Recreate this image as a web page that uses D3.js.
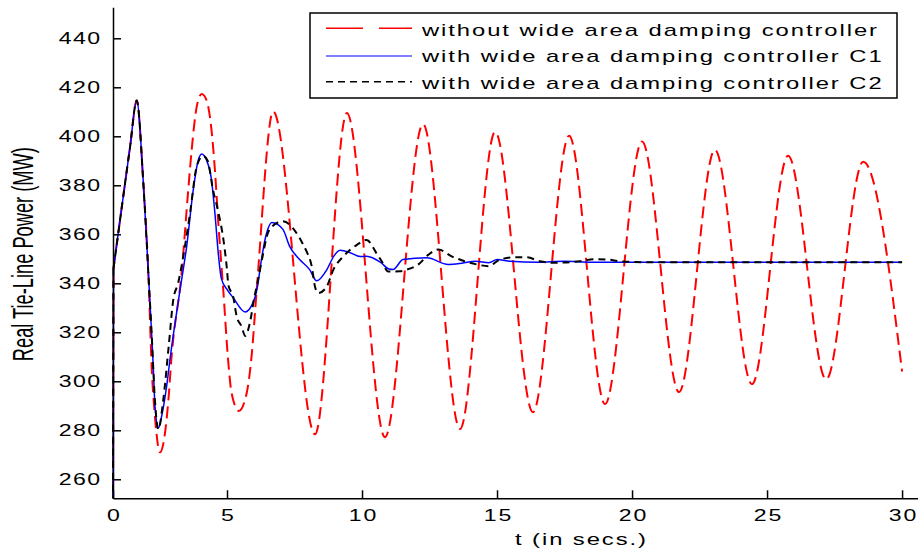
<!DOCTYPE html>
<html>
<head>
<meta charset="utf-8">
<script src="https://cdn.jsdelivr.net/npm/d3@7"></script>
<style>
  html, body { margin: 0; padding: 0; background: #fff; }
  svg { display: block; }
  text { font-family: "Liberation Sans", Arial, Helvetica, sans-serif; fill: #000; }
</style>
</head>
<body>
<svg id="chart" width="918" height="552"></svg>
<script>
// Tie-line power response, [time (s), power (MW)]
const withoutWadc = [
  [0, 250], [0.02, 346], [0.45, 375.5], [0.75, 395.8], [1.04, 414.6], [1.33, 381],
  [1.55, 344.3], [1.7, 305], [1.84, 285.6], [2.06, 271], [2.28, 278.8], [2.43, 292.4],
  [2.56, 309], [3.01, 344.3], [3.3, 378.1], [3.45, 394.4], [3.67, 412], [3.89, 417.3],
  [4.1, 414.8], [4.32, 402.6], [4.47, 386.2], [4.62, 364.5], [4.84, 336.8], [5.05, 307.5],
  [5.17, 295.2], [5.44, 287.9], [5.73, 295.2], [5.91, 310.2], [6.1, 337.3], [6.71, 410.1],
  [8.26, 278.4], [9.44, 409.5], [10.85, 277.2], [12.26, 405.0], [13.63, 280.5],
  [14.93, 401.8], [16.33, 287.4], [17.67, 400.2], [19.0, 290.7], [20.37, 397.9],
  [21.74, 295.6], [23.07, 394.5], [24.44, 298.8], [25.78, 392.1], [27.19, 300.8],
  [28.56, 389.6], [30.0, 304]
];

const withC1 = [
  [0, 250], [0.02, 346], [0.45, 375.5], [0.75, 395.8], [1.04, 414.6], [1.33, 381],
  [1.55, 344.3], [1.7, 318.5], [1.77, 305], [1.84, 290], [1.99, 281], [2.13, 285.6],
  [2.35, 297.8], [2.5, 309], [2.94, 337.3], [3.23, 355], [3.52, 378.1], [3.74, 390.3],
  [3.89, 392.8], [4.1, 390.3], [4.32, 382.2], [4.47, 368.6], [4.62, 352], [4.75, 342],
  [5.0, 337.5], [5.23, 334.1], [5.67, 328.3], [5.96, 332], [6.15, 340], [6.22, 345.6],
  [6.47, 360.6], [6.66, 364.8], [7.07, 362], [7.32, 355.1], [7.69, 349.7], [8.06, 345.6],
  [8.32, 341], [8.7, 345.6], [8.95, 351], [9.19, 353.5], [9.56, 352.5], [9.93, 350.9],
  [10.17, 351], [10.69, 348.5], [11.0, 345.8], [11.15, 345.6], [11.52, 349.7],
  [12.4, 350.4], [13.19, 347.7], [13.7, 348.2], [14.2, 349], [14.7, 348.4], [15.0, 349.7],
  [15.5, 349], [16.5, 348.6], [17.5, 349], [18.5, 348.6], [30.0, 348.6]
];

const withC2 = [
  [0, 250], [0.02, 346], [0.45, 375.5], [0.75, 395.8], [1.04, 414.6], [1.33, 381],
  [1.55, 344.3], [1.7, 318.5], [1.84, 292], [1.99, 280.4], [2.2, 292], [2.45, 315],
  [2.64, 333], [2.86, 340.2], [3.1, 352], [3.38, 368.7], [3.67, 387.6], [3.95, 392],
  [4.15, 390], [4.39, 378], [4.62, 369], [4.84, 358], [5.0, 345.5], [5.05, 339.3],
  [5.23, 334.5], [5.36, 326.4], [5.54, 322.4], [5.67, 318.5], [5.85, 324], [6.0, 333.5],
  [6.15, 341.5], [6.34, 352.2], [6.47, 359], [6.66, 363.1], [7.07, 365.3], [7.58, 360.4],
  [7.83, 355.6], [7.95, 352.9], [8.14, 346.8], [8.26, 338.6], [8.38, 336], [8.69, 338.6],
  [8.94, 345.6], [9.31, 351], [9.8, 355.6], [10.17, 357.7], [10.54, 352.2], [10.73, 349],
  [10.97, 344.8], [11.4, 344.9], [11.66, 345.6], [12.09, 347.7], [12.46, 351.7],
  [12.83, 353.8], [13.32, 351], [13.69, 349.4], [14.25, 347.7], [14.68, 347],
  [15.11, 349.7], [15.67, 350.6], [16.1, 350.6], [16.59, 349], [17.09, 348.4],
  [18.07, 349], [18.57, 349.8], [19.06, 349.7], [19.56, 349], [20.5, 348.6], [30.0, 348.6]
];

const xTickValues = [0, 5, 10, 15, 20, 25, 30];
const yTickValues = [260, 280, 300, 320, 340, 360, 380, 400, 420, 440];
const legendLabels = [
  "without wide area damping controller",
  "with wide area damping controller C1",
  "with wide area damping controller C2"
];

const svg = d3.select("#chart");

// time axis: the first 5 s occupy a narrower span than the later intervals
const x = d3.scaleLinear().domain([0, 5, 30.59]).range([113, 227, 918]);
const y = d3.scaleLinear().domain([252.24, 452.65]).range([498.3, 7.3]);

// widen text: glyphs scaled by g about their x position, the rest of the
// requested widening (k) taken up by letter spacing
function stretch(sel, k, g) {
  sel.each(function () {
    const el = d3.select(this);
    const n = this.getComputedTextLength();
    const ax = +el.attr("x") || 0;
    const prev = el.attr("transform") || "";
    el.attr("textLength", n * k / g)
      .attr("lengthAdjust", "spacing")
      .attr("transform", `${prev} translate(${ax},0) scale(${g},1) translate(${-ax},0)`);
  });
}

svg.append("clipPath").attr("id", "plotClip")
  .append("rect")
  .attr("x", x(0) - 2).attr("y", y.range()[1])
  .attr("width", x.range()[2] - x(0) + 2).attr("height", y.range()[0] - y.range()[1]);

const plot = svg.append("g").attr("clip-path", "url(#plotClip)");

const onset = d3.line().x(d => x(d[0])).y(d => y(d[1]));
const line = d3.line()
  .x(d => x(d[0]))
  .y(d => y(d[1]))
  .curve(d3.curveMonotoneX);

const series = [
  { data: withoutWadc, color: "#ff0000", width: 2, dash: "12,6", legendDash: "37,16" },
  { data: withC1, color: "#0000ff", width: 1.5, dash: null, legendDash: null },
  { data: withC2, color: "#000000", width: 2, dash: "7,5", legendDash: "7,5" }
];

series.forEach(s => {
  const g = plot.append("g")
    .attr("fill", "none")
    .attr("stroke", s.color)
    .attr("stroke-width", s.width)
    .attr("stroke-dasharray", s.dash);
  // step at t = 0 drawn straight, the response after it as a smooth curve
  g.append("path").datum(s.data.slice(0, 2)).attr("d", onset);
  g.append("path").datum(s.data.slice(1)).attr("d", line);
});

// axes (ticks point into the plot, no box)
const yAxis = svg.append("g")
  .attr("transform", `translate(${x(0)},0)`)
  .call(d3.axisLeft(y).tickValues(yTickValues).tickSizeInner(-8).tickSizeOuter(0).tickPadding(13));

const xAxis = svg.append("g")
  .attr("transform", `translate(0,${y.range()[0]})`)
  .call(d3.axisBottom(x).tickValues(xTickValues).tickSizeInner(-8).tickSizeOuter(0).tickPadding(10.5));

[yAxis, xAxis].forEach(g => {
  g.select(".domain").attr("stroke", "#000").attr("stroke-width", 1.5);
  g.selectAll(".tick line").attr("stroke", "#000").attr("stroke-width", 1.5);
  g.selectAll(".tick text")
    .attr("font-family", "'Liberation Sans', Arial, sans-serif")
    .attr("font-size", 16.5)
    .attr("fill", "#000");
});
stretch(yAxis.selectAll(".tick text"), 1.5, 1.4);
stretch(xAxis.selectAll(".tick text"), 1.5, 1.4);

// axis titles
const xTitle = svg.append("text")
  .attr("x", 580.5).attr("y", 545)
  .attr("text-anchor", "middle")
  .attr("font-size", 17)
  .text("t (in secs.)");
stretch(xTitle, 1.67, 1.4);

svg.append("text")
  .attr("transform", "translate(33.3,254.2) scale(1.58,1) rotate(-90)")
  .attr("text-anchor", "middle")
  .attr("font-size", 18.25)
  .text("Real Tie-Line Power (MW)");

// legend
const legend = svg.append("g");
legend.append("rect")
  .attr("x", 310).attr("y", 13).attr("width", 587).attr("height", 85)
  .attr("fill", "#fff").attr("stroke", "#000").attr("stroke-width", 1.5);

const rowLineY = [28.3, 56, 81.7];
const rowTextY = [36, 62.5, 89];
let legendK = null;
series.forEach((s, i) => {
  legend.append("line")
    .attr("x1", 326).attr("x2", 412)
    .attr("y1", rowLineY[i]).attr("y2", rowLineY[i])
    .attr("stroke", s.color)
    .attr("stroke-width", s.color === "#0000ff" ? 1.2 : 1.5)
    .attr("stroke-dasharray", s.legendDash);
  const t = legend.append("text")
    .attr("x", 422).attr("y", rowTextY[i])
    .attr("font-size", 17)
    .text(legendLabels[i]);
  if (legendK === null) legendK = 455 / t.node().getComputedTextLength();
  stretch(t, legendK, 1.4);
});
</script>
</body>
</html>
